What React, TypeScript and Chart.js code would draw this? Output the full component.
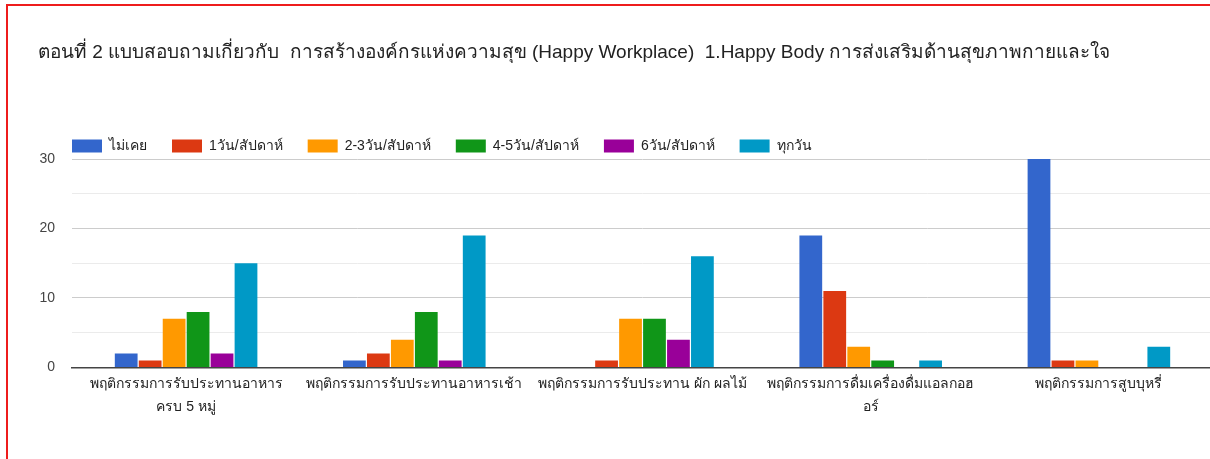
import React, { useEffect, useRef } from "react";
import { Chart, registerables } from "chart.js";

Chart.register(...registerables);

const TITLE =
  "ตอนที่ 2 แบบสอบถามเกี่ยวกับ  การสร้างองค์กรแห่งความสุข (Happy Workplace)  1.Happy Body การส่งเสริมด้านสุขภาพกายและใจ";

const categories: (string | string[])[] = [
  ["พฤติกรรมการรับประทานอาหาร", "ครบ 5 หมู่"],
  "พฤติกรรมการรับประทานอาหารเช้า",
  "พฤติกรรมการรับประทาน ผัก ผลไม้",
  ["พฤติกรรมการดื่มเครื่องดื่มแอลกอฮ", "อร์"],
  "พฤติกรรมการสูบบุหรี่",
];

const seriesNames = [
  "ไม่เคย",
  "1วัน/สัปดาห์",
  "2-3วัน/สัปดาห์",
  "4-5วัน/สัปดาห์",
  "6วัน/สัปดาห์",
  "ทุกวัน",
];

const neverValues = [2, 1, 0, 19, 30];
const oncePerWeek = [1, 2, 1, 11, 1];
const twoThreePerWeek = [7, 4, 7, 3, 1];
const fourFivePerWeek = [8, 8, 7, 1, 0];
const sixPerWeek = [2, 1, 4, 0, 0];
const everyDay = [15, 19, 16, 1, 3];

const seriesValues = [
  neverValues,
  oncePerWeek,
  twoThreePerWeek,
  fourFivePerWeek,
  sixPerWeek,
  everyDay,
];

const seriesColors = ["#3366cc", "#dc3912", "#ff9900", "#109618", "#990099", "#0099c6"];

const yMax = 30;
const yStep = 5;

const FONT = "'Liberation Sans', Arial, 'Noto Sans', 'DejaVu Sans', sans-serif";

const legendPlacer = {
  id: "legendPlacer",
  afterLayout(chart: any) {
    const lg = chart.legend;
    if (!lg) return;
    const pad = lg.options.labels.padding;
    const shiftX = chart.chartArea.left - pad - lg.left;
    lg.left += shiftX;
    lg.right += shiftX;
    const targetCenter = 140;
    lg.top = targetCenter - pad - 7;
  },
};

export default function App() {
  const ref = useRef<HTMLCanvasElement | null>(null);

  useEffect(() => {
    if (!ref.current) return;
    const chart = new Chart(ref.current, {
      type: "bar",
      data: {
        labels: categories,
        datasets: seriesNames.map((name, i) => ({
          label: name,
          data: seriesValues[i],
          backgroundColor: seriesColors[i],
          borderWidth: 0,
          categoryPercentage: 0.63,
          barPercentage: 0.95,
        })),
      },
      plugins: [legendPlacer],
      options: {
        responsive: false,
        animation: false,
        devicePixelRatio: 1,
        layout: { padding: { left: 0, right: 1, top: 0, bottom: 34.5 } },
        plugins: {
          title: {
            display: true,
            text: TITLE,
            align: "start",
            color: "#222",
            font: { family: FONT, size: 19, weight: "normal" },
            padding: { top: 35.5, bottom: 45.7 },
          },
          legend: {
            display: true,
            position: "top",
            align: "start",
            labels: {
              boxWidth: 30,
              boxHeight: 13,
              padding: 25,
              color: "#222",
              font: { family: FONT, size: 14 },
            },
          },
          tooltip: { enabled: false },
        },
        scales: {
          x: {
            grid: { display: false, drawTicks: false },
            border: { display: true, color: "#444", width: 1.5 },
            ticks: {
              color: "#222",
              font: { family: FONT, size: 14, lineHeight: 1.643 },
              padding: 5.5,
              autoSkip: false,
              maxRotation: 0,
              minRotation: 0,
            },
          },
          y: {
            min: 0,
            max: yMax,
            afterFit(scale: any) {
              scale.width = 34;
            },
            border: { display: false },
            grid: {
              drawTicks: false,
              color: (ctx: any) => {
                const v = ctx.tick ? ctx.tick.value : 0;
                if (v === 0) return "rgba(0,0,0,0)";
                return v % 10 === 0 ? "#cccccc" : "#ebebeb";
              },
              lineWidth: 1,
            },
            ticks: {
              stepSize: yStep,
              padding: 17,
              color: "#444",
              font: { family: FONT, size: 14 },
              callback: (v: any) => (Number(v) % 10 === 0 ? String(v) : ""),
            },
          },
        },
      },
    });
    return () => chart.destroy();
  }, []);

  return (
    <div
      style={{
        position: "fixed",
        inset: 0,
        overflow: "hidden",
        background: "#fff",
      }}
    >
      <div
        style={{
          position: "absolute",
          left: 6,
          top: 4,
          width: 1300,
          height: 600,
          borderTop: "2px solid #ee1c1c",
          borderLeft: "2px solid #ee1c1c",
        }}
      />
      <canvas
        ref={ref}
        width={1176}
        height={453}
        style={{ position: "absolute", left: 38, top: 6, width: 1176, height: 453 }}
      />
    </div>
  );
}
